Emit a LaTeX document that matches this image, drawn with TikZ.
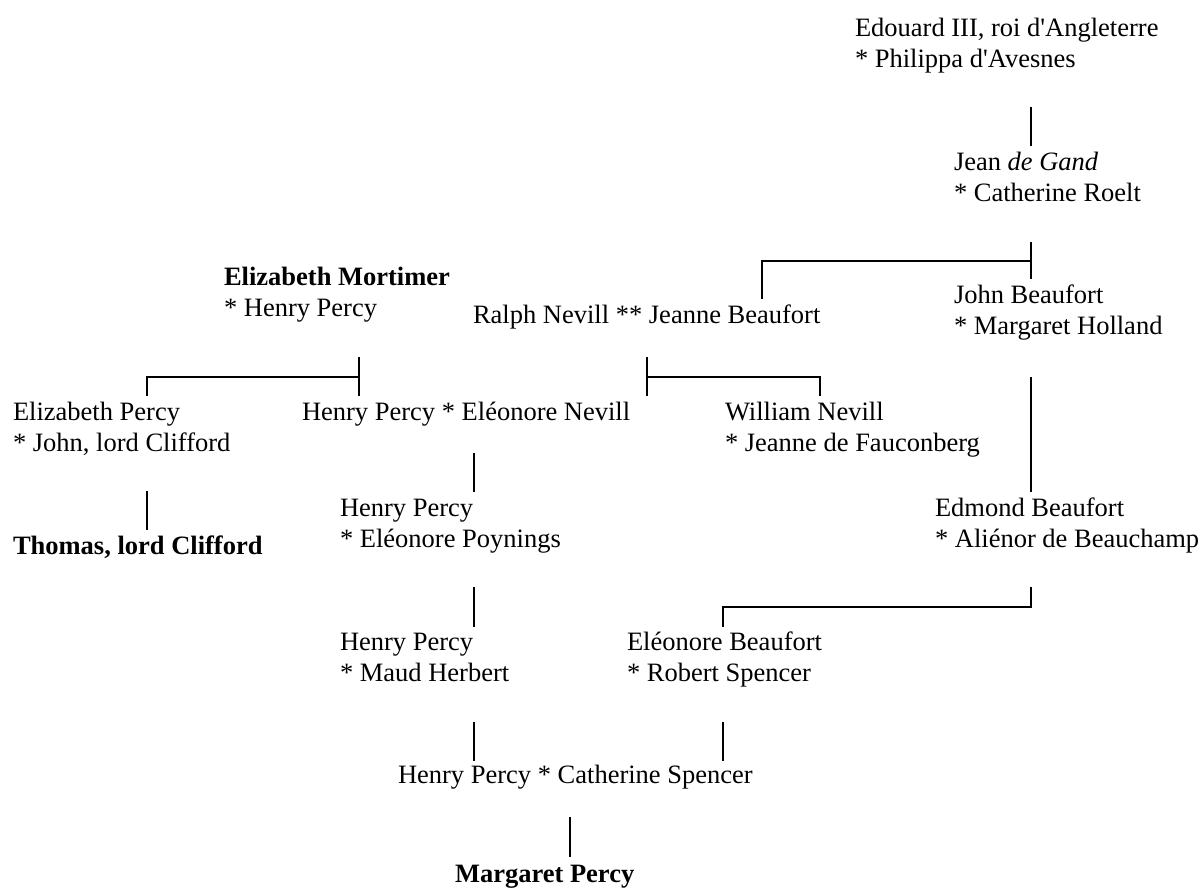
\documentclass[tikz,border=0pt]{standalone}
\usepackage{fontspec}
\setmainfont{Liberation Serif}[Ligatures=TeXOff]
\usetikzlibrary{calc}

% two-line entry whose baseline is that of its first line
\newcommand{\twolines}[2]{\begin{tabular}[t]{@{}l@{}}#1\\\relax #2\end{tabular}}

\tikzset{
  person/.style={anchor=base west, inner sep=0pt, outer sep=0pt,
    font=\fontsize{26.5}{31}\selectfont},
  link/.style={draw=black, line width=1.6pt, line cap=butt, line join=miter}
}

\begin{document}
\begin{tikzpicture}[x=1pt, y=-1pt]
  \useasboundingbox (0,0) rectangle (1202,887);

  % people
  \node[person] (edouard)  at (855,36)  {\twolines{Edouard III, roi d'Angleterre}{* Philippa d'Avesnes}};
  \node[person] (jean)     at (954,170) {\twolines{Jean \textit{de Gand}}{* Catherine Roelt}};
  \node[person] (john)     at (954,303) {\twolines{John Beaufort}{* Margaret Holland}};
  \node[person] (ralph)    at (473,323) {Ralph Nevill ** Jeanne Beaufort};
  \node[person] (mortimer) at (224,285) {\twolines{\textbf{Elizabeth Mortimer}}{* Henry Percy}};
  \node[person] (elizp)    at (13,420)  {\twolines{Elizabeth Percy}{* John, lord Clifford}};
  \node[person] (henrya)   at (302,420) {Henry Percy * Eléonore Nevill};
  \node[person] (william)  at (725,420) {\twolines{William Nevill}{* Jeanne de Fauconberg}};
  \node[person] (thomas)   at (13,554)  {\textbf{Thomas, lord Clifford}};
  \node[person] (henryb)   at (340,516) {\twolines{Henry Percy}{* Eléonore Poynings}};
  \node[person] (edmond)   at (935,516) {\twolines{Edmond Beaufort}{* Aliénor de Beauchamp}};
  \node[person] (henryc)   at (340,650) {\twolines{Henry Percy}{* Maud Herbert}};
  \node[person] (eleonore) at (627,650) {\twolines{Eléonore Beaufort}{* Robert Spencer}};
  \node[person] (henryd)   at (398,783) {Henry Percy * Catherine Spencer};
  \node[person] (margaret) at (455,882) {\textbf{Margaret Percy}};

  % connector end points
  \coordinate (edouardB) at (1031,107);  \coordinate (jeanT)     at (1031,146);
  \coordinate (jeanB)    at (1031,242);  \coordinate (johnT)     at (1031,279);
  \coordinate (jeanJ)    at (1031,261);  \coordinate (ralphT)    at (762,299);
  \coordinate (mortB)    at (359,357);   \coordinate (henryaT)   at (359,396);
  \coordinate (mortJ)    at (359,377);   \coordinate (elizpT)    at (147,396);
  \coordinate (ralphB)   at (647,357);   \coordinate (ralphT2)   at (647,396);
  \coordinate (ralphJ)   at (647,377);   \coordinate (williamT)  at (820,396);
  \coordinate (elizpB)   at (147,491);   \coordinate (thomasT)   at (147,530);
  \coordinate (henryaB)  at (474,453);   \coordinate (henrybT)   at (474,492);
  \coordinate (johnB)    at (1031,377);  \coordinate (edmondT)   at (1031,492);
  \coordinate (henrybB)  at (474,587);   \coordinate (henrycT)   at (474,627);
  \coordinate (edmondB)  at (1031,587);  \coordinate (eleonoreT) at (723,627);
  \coordinate (henrycB)  at (474,722);   \coordinate (henrydTa)  at (474,761);
  \coordinate (eleonoreB) at (723,722);  \coordinate (henrydTb)  at (723,761);
  \coordinate (henrydB)  at (570,817);   \coordinate (margaretT) at (570,857);

  % descent lines
  \path[link] (edouardB) -- (jeanT);
  \path[link] (jeanB) -- (johnT);
  \path[link] (jeanJ) -| (ralphT);
  \path[link] (mortB) -- (henryaT);
  \path[link] (mortJ) -| (elizpT);
  \path[link] (ralphB) -- (ralphT2);
  \path[link] (ralphJ) -| (williamT);
  \path[link] (elizpB) -- (thomasT);
  \path[link] (henryaB) -- (henrybT);
  \path[link] (johnB) -- (edmondT);
  \path[link] (henrybB) -- (henrycT);
  \path[link] (edmondB) |- (723,607) -- (eleonoreT);
  \path[link] (henrycB) -- (henrydTa);
  \path[link] (eleonoreB) -- (henrydTb);
  \path[link] (henrydB) -- (margaretT);
\end{tikzpicture}
\end{document}
